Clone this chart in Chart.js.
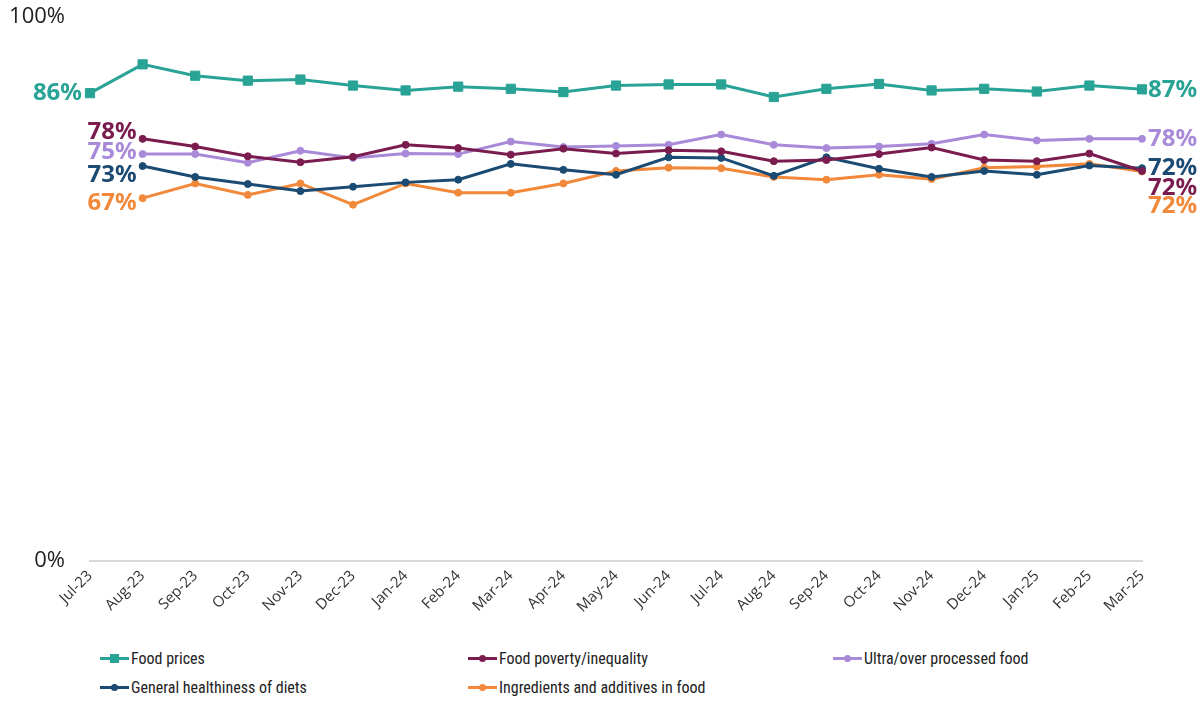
<!DOCTYPE html>
<html>
<head>
<meta charset="utf-8">
<script src="https://cdn.jsdelivr.net/npm/chart.js@4"></script>
<style>
  html, body { margin: 0; padding: 0; background: #fff; }
  #wrap { position: relative; width: 1202px; height: 702px; overflow: hidden; }
  #chart { position: absolute; left: 0; top: 0; }
  #legend {
    position: absolute; left: 100px; top: 648px;
    display: grid; grid-template-columns: 368px 365px 330px; row-gap: 9px;
    font-family: "Liberation Sans Narrow", "Roboto Condensed", Roboto, sans-serif;
    font-size: 16px; color: #222;
  }
  .item { display: flex; align-items: center; height: 20px; white-space: nowrap; }
  .item svg { margin-right: 2px; }
</style>
</head>
<body>
<div id="wrap">
  <canvas id="chart" width="1202" height="640"></canvas>
  <div id="legend"></div>
</div>
<script>
// Monthly survey months
const months = ['Jul-23','Aug-23','Sep-23','Oct-23','Nov-23','Dec-23','Jan-24','Feb-24','Mar-24','Apr-24',
                'May-24','Jun-24','Jul-24','Aug-24','Sep-24','Oct-24','Nov-24','Dec-24','Jan-25','Feb-25','Mar-25'];

// Share of respondents concerned about each topic (%)
const foodPrices    = [86.0, 91.3, 89.2, 88.3, 88.5, 87.4, 86.5, 87.2, 86.8, 86.2,
                       87.4, 87.6, 87.6, 85.3, 86.8, 87.7, 86.5, 86.8, 86.3, 87.4, 86.7];
const foodPoverty   = [null, 77.6, 76.2, 74.4, 73.3, 74.3, 76.5, 75.9, 74.7, 75.8,
                       74.9, 75.5, 75.3, 73.5, 73.7, 74.8, 76.0, 73.7, 73.5, 74.9, 71.7];
const ultraProcessed = [null, 74.8, 74.8, 73.2, 75.4, 74.1, 74.9, 74.8, 77.1, 76.1,
                       76.3, 76.5, 78.4, 76.5, 75.9, 76.2, 76.7, 78.4, 77.3, 77.6, 77.6];
const healthiness   = [null, 72.6, 70.6, 69.3, 68.0, 68.8, 69.6, 70.1, 73.0, 71.9,
                       71.0, 74.2, 74.1, 70.8, 74.2, 72.1, 70.6, 71.7, 71.0, 72.7, 72.2];
const ingredients   = [null, 66.7, 69.4, 67.3, 69.4, 65.5, 69.4, 67.7, 67.7, 69.4,
                       71.7, 72.3, 72.2, 70.6, 70.1, 71.0, 70.2, 72.3, 72.5, 73.0, 71.6];

// Y axis tick values
const yTicks = [0, 100];

const series = [
  { label: 'Food prices', data: foodPrices, color: '#29a396', shape: 'rect', radius: 6.5 },
  { label: 'Food poverty/inequality', data: foodPoverty, color: '#7b1c4f', shape: 'circle', radius: 3.5 },
  { label: 'Ultra/over processed food', data: ultraProcessed, color: '#a98ad8', shape: 'circle', radius: 3.5 },
  { label: 'General healthiness of diets', data: healthiness, color: '#1b4b73', shape: 'circle', radius: 3.5 },
  { label: 'Ingredients and additives in food', data: ingredients, color: '#f2883a', shape: 'circle', radius: 3.5 }
];

// vertical nudges for the first / last value labels so they do not collide
const endLabelShift = {
  start: [0, -7, -2, 9, 5],
  end:   [1, 17, 0, 0, 35]
};

const endLabels = {
  id: 'endLabels',
  afterDatasetsDraw(chart) {
    const { ctx, scales: { x, y } } = chart;
    ctx.save();
    ctx.font = 'bold 24px "Noto Sans", "Open Sans", sans-serif';
    ctx.textBaseline = 'middle';
    chart.data.datasets.forEach((ds, i) => {
      const first = ds.data.findIndex(v => v !== null);
      const last = ds.data.length - 1;
      ctx.fillStyle = ds.borderColor;
      const gapL = ds.pointStyle === 'rect' ? 8 : 6;
      ctx.textAlign = 'right';
      ctx.fillText(Math.round(ds.data[first]) + '%', x.getPixelForValue(first) - gapL,
                   y.getPixelForValue(ds.data[first]) + endLabelShift.start[i]);
      ctx.textAlign = 'left';
      ctx.fillText(Math.round(ds.data[last]) + '%', x.getPixelForValue(last) + 6,
                   y.getPixelForValue(ds.data[last]) + endLabelShift.end[i]);
    });
    ctx.restore();
  }
};

const chart = new Chart(document.getElementById('chart'), {
  type: 'line',
  data: {
    labels: months,
    datasets: series.map(s => ({
      label: s.label,
      data: s.data,
      borderColor: s.color,
      backgroundColor: s.color,
      pointBackgroundColor: s.color,
      pointBorderColor: s.color,
      pointStyle: s.shape,
      pointRadius: s.radius,
      pointBorderWidth: 1,
      borderWidth: 3,
      tension: 0,
      spanGaps: false
    }))
  },
  options: {
    responsive: false,
    animation: false,
    layout: { padding: { left: 0, right: 60, top: 17, bottom: 0 } },
    plugins: { legend: { display: false }, tooltip: { enabled: false } },
    scales: {
      x: {
        offset: false,
        grid: { display: false, drawTicks: false },
        border: { display: true, color: '#d9d9d9', width: 2 },
        ticks: {
          autoSkip: false, minRotation: 45, maxRotation: 45, padding: 6,
          color: '#333', font: { family: '"Open Sans", sans-serif', size: 15 }
        },
        afterFit(s) { s.height = 79; }
      },
      y: {
        min: yTicks[0], max: yTicks[yTicks.length - 1],
        grid: { display: false, drawTicks: false },
        border: { display: false },
        afterBuildTicks(s) { s.ticks = yTicks.map(v => ({ value: v })); },
        ticks: {
          padding: 25, color: '#222',
          font: { family: '"Open Sans", sans-serif', size: 22 },
          callback: v => v + '%'
        },
        afterFit(s) { s.width = 90; s.paddingTop = 0; s.paddingBottom = 0; }
      }
    }
  },
  plugins: [endLabels]
});

// legend built from the chart's datasets
const legend = document.getElementById('legend');
chart.data.datasets.forEach(ds => {
  const item = document.createElement('div');
  item.className = 'item';
  const marker = ds.pointStyle === 'rect'
    ? `<rect x="10" y="5" width="9" height="9" fill="${ds.borderColor}"/>`
    : `<circle cx="14.5" cy="9.5" r="3.5" fill="${ds.borderColor}"/>`;
  item.innerHTML = `<svg width="29" height="19" viewBox="0 0 29 19"><line x1="0" y1="9.5" x2="29" y2="9.5" stroke="${ds.borderColor}" stroke-width="3"/>${marker}</svg><span>${ds.label}</span>`;
  legend.appendChild(item);
});
</script>
</body>
</html>
